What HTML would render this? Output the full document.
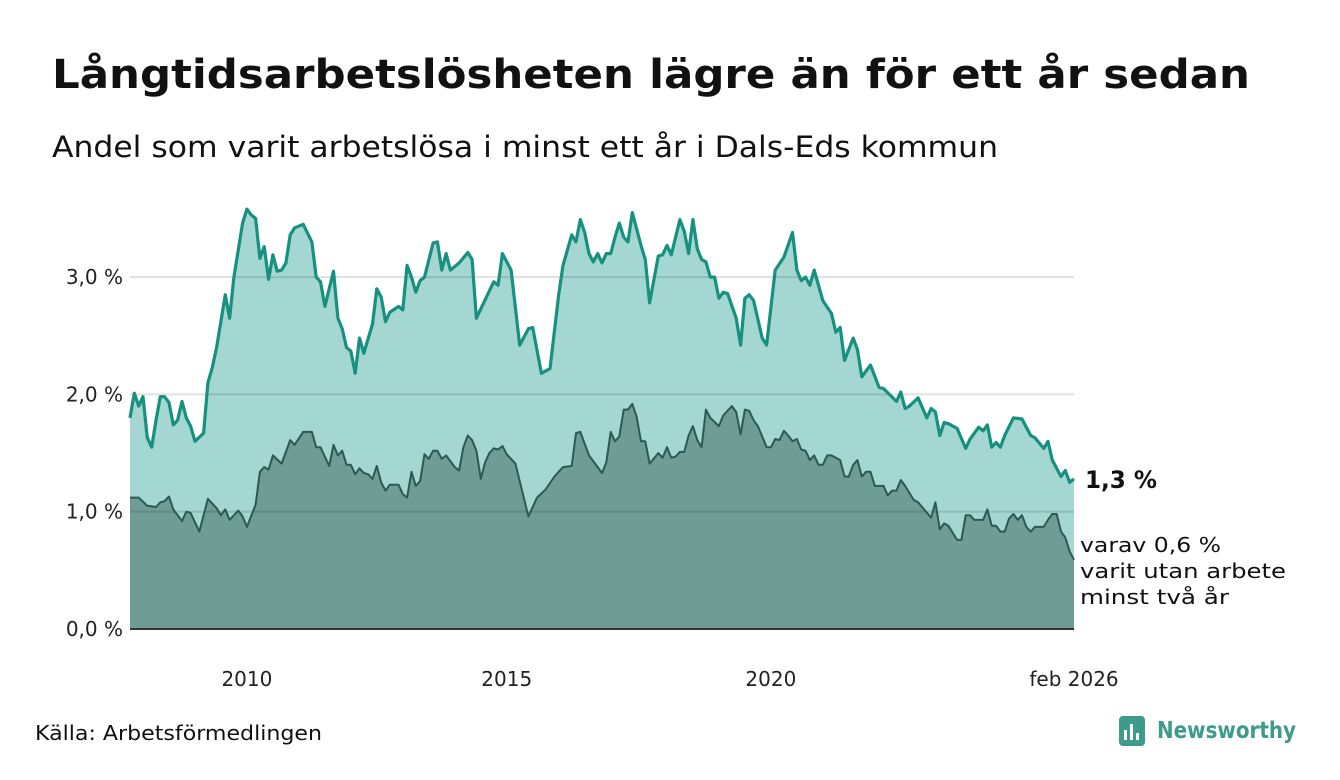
<!DOCTYPE html>
<html><head><meta charset="utf-8"><style>
html,body{margin:0;padding:0;background:#fff;}
svg{display:block;font-family:"DejaVu Sans","Liberation Sans",sans-serif;}
</style></head><body>
<svg id="chart" width="1340" height="780" viewBox="0 0 1340 780">
<text x="52" y="88" font-size="40" font-weight="bold" fill="#111" textLength="1198" lengthAdjust="spacingAndGlyphs">Långtidsarbetslösheten lägre än för ett år sedan</text>
<text x="52" y="157" font-size="29" fill="#111" textLength="946" lengthAdjust="spacingAndGlyphs">Andel som varit arbetslösa i minst ett år i Dals-Eds kommun</text>
<g id="plot"></g>
<g id="axes"></g>
<text x="1085" y="488" font-size="24" font-weight="bold" fill="#111" textLength="72" lengthAdjust="spacingAndGlyphs">1,3 %</text>
<g font-size="20" fill="#111">
<text x="1080" y="552" textLength="141" lengthAdjust="spacingAndGlyphs">varav 0,6 %</text>
<text x="1080" y="578" textLength="206" lengthAdjust="spacingAndGlyphs">varit utan arbete</text>
<text x="1080" y="604" textLength="149" lengthAdjust="spacingAndGlyphs">minst två år</text>
</g>
<text x="35" y="740" font-size="20" fill="#111" textLength="287" lengthAdjust="spacingAndGlyphs">Källa: Arbetsförmedlingen</text>
<g>
<rect x="1119" y="716" width="26" height="30" rx="4" fill="#3e9a8a"/>
<rect x="1124" y="730" width="3" height="10" fill="#fff"/><rect x="1130" y="724" width="3" height="16" fill="#fff"/><rect x="1136" y="733" width="3" height="7" fill="#fff"/>
<text x="1157" y="738" font-size="23" font-weight="bold" fill="#3e9a8a" textLength="139" lengthAdjust="spacingAndGlyphs">Newsworthy</text>
</g>
</svg>
<script>
const totalMonths=[0,1,2,3,4,5,6,7,8,9,10,11,12,13,14,15,17,18,19,20,22,23,24,26,27,28,29,30,31,32,33,34,35,36,37,38,40,42,43,44,45,47,48,49,50,51,52,53,54,56,57,58,59,60,62,63,64,65,66,67,68,70,71,72,73,74,76,78,79,80,84,85,86,88,90,92,93,95,97,99,100,102,103,104,105,106,107,108,109,110,111,112,113,114,115,116,118,119,120,122,123,124,125,127,128,129,130,131,132,133,134,135,136,137,138,140,141,142,143,144,146,147,149,151,153,154,155,156,157,158,160,162,163,164,165,167,168,169,171,173,174,177,178,179,180,182,184,185,186,187,188,189,191,193,194,196,197,198,199,200,201,202,204,206,208,209,211,212,213,215,216,217,218];
const totalValues=[1.8,2.01,1.9,1.98,1.63,1.55,1.78,1.98,1.98,1.93,1.74,1.78,1.94,1.8,1.73,1.6,1.67,2.1,2.23,2.4,2.85,2.65,3.0,3.46,3.58,3.53,3.5,3.16,3.26,2.98,3.19,3.05,3.06,3.12,3.36,3.42,3.45,3.3,3.0,2.96,2.75,3.05,2.65,2.56,2.4,2.37,2.18,2.48,2.35,2.6,2.9,2.83,2.62,2.7,2.75,2.72,3.1,3.0,2.87,2.97,3.0,3.29,3.3,3.06,3.2,3.06,3.12,3.21,3.15,2.65,2.96,2.93,3.2,3.06,2.42,2.56,2.57,2.18,2.22,2.85,3.1,3.36,3.3,3.49,3.38,3.2,3.13,3.2,3.12,3.2,3.2,3.34,3.46,3.34,3.3,3.55,3.27,3.15,2.78,3.18,3.19,3.27,3.19,3.49,3.39,3.2,3.49,3.24,3.15,3.13,3.0,3.0,2.82,2.87,2.86,2.65,2.42,2.82,2.85,2.8,2.48,2.42,3.06,3.17,3.38,3.06,2.97,3.0,2.93,3.06,2.8,2.69,2.53,2.57,2.29,2.48,2.38,2.15,2.25,2.06,2.05,1.94,2.02,1.88,1.9,1.97,1.8,1.88,1.85,1.65,1.76,1.75,1.71,1.54,1.62,1.72,1.69,1.74,1.55,1.59,1.55,1.65,1.8,1.79,1.65,1.63,1.54,1.6,1.44,1.3,1.35,1.25,1.28];
const longMonths=[0,2,4,6,7,8,9,10,12,13,14,16,18,20,21,22,23,25,26,27,29,30,31,32,33,35,37,38,40,42,43,44,46,47,48,49,50,51,52,53,54,55,56,57,58,59,60,62,63,64,65,66,67,68,69,70,71,72,73,75,76,77,78,79,80,81,82,83,84,85,86,87,89,92,94,96,98,100,102,103,104,106,109,110,111,112,113,114,115,116,117,118,119,120,122,123,124,125,126,127,128,129,130,131,132,133,134,136,137,139,140,141,142,143,144,145,147,148,149,150,151,152,153,154,155,156,157,158,159,160,161,162,164,165,166,167,168,169,170,171,172,174,175,176,177,178,179,181,182,185,186,187,188,189,191,192,193,194,195,197,198,199,200,201,202,203,204,205,206,207,208,209,211,212,213,214,215,216,217,218];
const longValues=[1.12,1.12,1.05,1.04,1.08,1.09,1.13,1.02,0.92,1.0,0.99,0.83,1.11,1.03,0.97,1.02,0.93,1.01,0.96,0.87,1.06,1.34,1.38,1.36,1.48,1.41,1.61,1.57,1.68,1.68,1.55,1.55,1.39,1.57,1.48,1.52,1.4,1.4,1.32,1.37,1.33,1.32,1.28,1.39,1.25,1.18,1.23,1.23,1.15,1.12,1.34,1.22,1.26,1.49,1.45,1.52,1.52,1.45,1.48,1.38,1.35,1.55,1.65,1.61,1.52,1.28,1.42,1.5,1.54,1.53,1.56,1.49,1.41,0.96,1.12,1.19,1.3,1.38,1.39,1.67,1.68,1.48,1.33,1.42,1.68,1.6,1.64,1.87,1.87,1.92,1.81,1.6,1.6,1.41,1.5,1.46,1.55,1.46,1.47,1.51,1.51,1.65,1.73,1.61,1.55,1.87,1.8,1.73,1.82,1.9,1.85,1.66,1.87,1.86,1.78,1.73,1.55,1.55,1.62,1.61,1.69,1.65,1.6,1.62,1.53,1.52,1.44,1.48,1.4,1.4,1.48,1.48,1.44,1.3,1.3,1.4,1.44,1.3,1.34,1.34,1.22,1.22,1.14,1.18,1.18,1.27,1.22,1.1,1.08,0.95,1.08,0.85,0.9,0.88,0.76,0.76,0.97,0.97,0.93,0.93,1.02,0.88,0.88,0.83,0.83,0.94,0.98,0.93,0.97,0.87,0.83,0.87,0.87,0.93,0.98,0.98,0.83,0.78,0.66,0.59];
const yTicks=[0,1,2,3];
const yTickLabels=["0,0 %","1,0 %","2,0 %","3,0 %"];
const xTickMonths=[27,87,148,218];
const xTickLabels=["2010","2015","2020","feb 2026"];

const X0=130,X1=1074,Y0=629,PER=117.3,MAXM=218;
const xs=m=>X0+m*(X1-X0)/MAXM;
const ys=v=>Y0-v*PER;
const NS="http://www.w3.org/2000/svg";
const plot=document.getElementById('plot'),axes=document.getElementById('axes');
function mk(tag,attrs,parent){const e=document.createElementNS(NS,tag);for(const k in attrs)e.setAttribute(k,attrs[k]);parent.appendChild(e);return e;}
function linePts(ms,vs){return ms.map((m,i)=>xs(m).toFixed(1)+','+ys(vs[i]).toFixed(1)).join(' ');}
function areaPts(ms,vs){return xs(ms[0])+','+Y0+' '+linePts(ms,vs)+' '+xs(ms[ms.length-1])+','+Y0;}

const a1=mk('polygon',{points:areaPts(totalMonths,totalValues),fill:'#a4d7d1'},plot);


const a2=mk('polygon',{points:areaPts(longMonths,longValues),fill:'#6f9c95'},plot);


yTicks.forEach((t,i)=>{
  if(t>0){const g=mk('line',{x1:X0,x2:X1,y1:ys(t),y2:ys(t),stroke:'rgba(0,0,0,0.12)','stroke-width':2},plot);
  
  }
  const tx=mk('text',{x:123,y:ys(t)+7,'font-size':20,'text-anchor':'end',fill:'#222'},axes);
  tx.textContent=yTickLabels[i];
  
  
});
const l1=mk('polyline',{points:linePts(totalMonths,totalValues),fill:'none',stroke:'#17907f','stroke-width':3.2,'stroke-linejoin':'round'},plot);


const l2=mk('polyline',{points:linePts(longMonths,longValues),fill:'none',stroke:'#2b5a52','stroke-width':2,'stroke-linejoin':'round'},plot);


const base=mk('line',{x1:X0,x2:X1,y1:Y0,y2:Y0,stroke:'#333','stroke-width':2},plot);


xTickMonths.forEach((m,i)=>{
  const tx=mk('text',{x:xs(m),y:686,'font-size':20,'text-anchor':'middle',fill:'#222'},axes);
  tx.textContent=xTickLabels[i];
  
  
});
</script>
</body></html>
